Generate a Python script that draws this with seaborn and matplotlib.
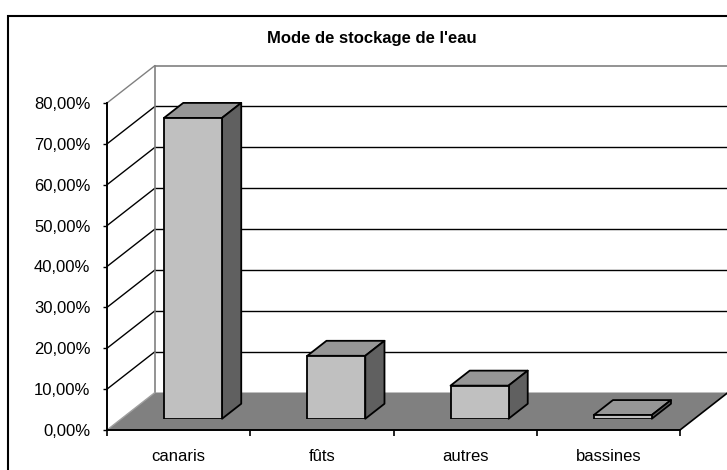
import matplotlib
matplotlib.use("Agg")
import matplotlib.pyplot as plt
from matplotlib.patches import Polygon, Rectangle
import seaborn as sns
import pandas as pd

categories = ["canaris", "fûts", "autres", "bassines"]
values = [73.6, 15.4, 8.1, 0.9]
y_ticks = [0, 10, 20, 30, 40, 50, 60, 70, 80]
y_tick_labels = ["0,00%", "10,00%", "20,00%", "30,00%", "40,00%", "50,00%", "60,00%", "70,00%", "80,00%"]
title = "Mode de stockage de l'eau"

sns.set_theme(style="white")
plt.rcParams["font.family"] = ["Liberation Sans", "DejaVu Sans"]

W, H = 727, 470
fig = plt.figure(figsize=(W / 100, H / 100), dpi=100)
fig.patch.set_facecolor("white")

# front plane axes (pixels: x 107->680, y 430->103)
L, R, B, T = 107, 680, 430, 103
ax = fig.add_axes([L / W, (H - B) / H, (R - L) / W, (B - T) / H])
ax.set_xlim(-0.5, 3.5)
ax.set_ylim(0, 80)
ax.set_facecolor("none")

px_x = (R - L) / 4.0      # pixels per category
px_y = (B - T) / 80.0     # pixels per percent
DX = 48 / px_x            # full depth offset in data units
DY = 37.5 / px_y

x0, x1 = -0.5, 3.5
# side wall diagonals and back wall gridlines
for v in y_ticks[1:-1]:
    ax.plot([x0, x0 + DX], [v, v + DY], color="black", lw=1.0, clip_on=False, zorder=1)
    ax.plot([x0 + DX, x1 + DX], [v + DY, v + DY], color="black", lw=1.0, clip_on=False, zorder=1)
# top edges (gray)
top = y_ticks[-1]
ax.plot([x0, x0 + DX], [top, top + DY], color="#808080", lw=1.0, clip_on=False, zorder=1)
ax.plot([x0 + DX, x1 + DX], [top + DY, top + DY], color="#808080", lw=1.2, clip_on=False, zorder=1)
ax.plot([x0 + DX, x0 + DX], [DY, top + DY], color="#808080", lw=1.2, clip_on=False, zorder=1)

# floor
floor = Polygon([(x0, 0), (x1, 0), (x1 + DX, DY), (x0 + DX, DY)], closed=True,
                facecolor="#808080", edgecolor="none", clip_on=False, zorder=2)
ax.add_patch(floor)
ax.plot([x0, x0 + DX], [0, DY], color="#a0a0a0", lw=1.0, clip_on=False, zorder=2)
ax.plot([x1, x1 + DX], [0, DY], color="black", lw=1.2, clip_on=False, zorder=2)

# axis styling
for s in ["top", "right"]:
    ax.spines[s].set_visible(False)
for s in ["left", "bottom"]:
    ax.spines[s].set_color("black")
    ax.spines[s].set_linewidth(1.4)
    ax.spines[s].set_zorder(5)
ax.set_yticks(y_ticks)
ax.set_yticklabels(y_tick_labels)
ax.set_xticks(range(len(categories)))
ax.set_xticklabels(categories)
ax.set_xticks([-0.5, 0.5, 1.5, 2.5, 3.5], minor=True)
ax.tick_params(axis="y", direction="out", length=3, width=1, color="black", pad=9,
               labelsize=12, left=True)
ax.tick_params(axis="x", which="major", length=0, pad=14, labelsize=12)
ax.tick_params(axis="x", which="minor", direction="out", length=4, width=1.2,
               color="black", bottom=True)
for lab in ax.get_xticklabels() + ax.get_yticklabels():
    lab.set_color("black")
ax.set_xlabel("")
ax.set_ylabel("")

# bar plane: offset by 30% of depth
t0, t1 = 0.3, 0.7
ax2 = fig.add_axes([(L + t0 * 48) / W, (H - B + t0 * 37.5) / H, (R - L) / W, (B - T) / H])
ax2.set_xlim(-0.5, 3.5)
ax2.set_ylim(0, 80)
ax2.set_facecolor("none")
ax2.axis("off")
df = pd.DataFrame({"cat": categories, "val": values})
sns.barplot(data=df, x="cat", y="val", width=0.405, color="#C0C0C0", saturation=1,
            edgecolor="black", linewidth=1.3, ax=ax2, zorder=4)
ax2.set_xlim(-0.5, 3.5)
ax2.set_ylim(0, 80)
ddx = (t1 - t0) * DX
ddy = (t1 - t0) * DY
for p in ax2.patches[:len(values)]:
    bx, bw, bh = p.get_x(), p.get_width(), p.get_height()
    topp = Polygon([(bx, bh), (bx + bw, bh), (bx + bw + ddx, bh + ddy), (bx + ddx, bh + ddy)],
                   closed=True, facecolor="#969696", edgecolor="black", lw=1.3,
                   joinstyle="round", clip_on=False, zorder=3)
    side = Polygon([(bx + bw, 0), (bx + bw + ddx, ddy), (bx + bw + ddx, bh + ddy), (bx + bw, bh)],
                   closed=True, facecolor="#606060", edgecolor="black", lw=1.3,
                   joinstyle="round", clip_on=False, zorder=3)
    ax2.add_patch(topp)
    ax2.add_patch(side)

# title
fig.text(372 / W, 1 - 38 / H, title, ha="center", va="center", fontsize=12,
         fontweight="bold", color="black")

# chart border
fig.patches.append(Rectangle((8 / W, -0.1), 2.0, 1.1 - 16 / H, transform=fig.transFigure,
                             fill=False, edgecolor="black", lw=1.5))

fig.savefig("out.png", dpi=100)
